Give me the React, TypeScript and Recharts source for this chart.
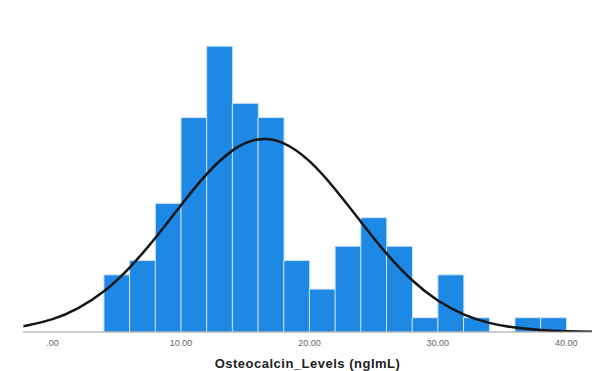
// OsteocalcinHistogram.tsx
import {
  ComposedChart, Bar, Line, XAxis, YAxis, Label
} from 'recharts';

// histogram bins (width 2), centre of each bin and its frequency
const binMids = [5, 7, 9, 11, 13, 15, 17, 19, 21, 23, 25, 27, 29, 31, 33, 35, 37, 39];
const binCounts = [4, 5, 9, 15, 20, 16, 15, 5, 3, 6, 8, 6, 1, 4, 1, 0, 1, 1];

// fitted normal curve (frequency scale)
const curveX = [-2.3, -2, 0, 2, 4, 6, 8, 10, 12, 14, 16, 18, 20, 22, 24, 26, 28, 30, 32, 34, 36, 38, 40, 42];
const curveY = [0.4, 0.45, 0.9, 1.67, 2.85, 4.51, 6.58, 8.87, 11.04, 12.69, 13.47, 13.2, 11.95, 9.99, 7.72, 5.5, 3.62, 2.2, 1.24, 0.64, 0.31, 0.14, 0.06, 0.02];

const xTicks = [0, 10, 20, 30, 40];

const bins = binMids.map((mid, i) => ({ mid, count: binCounts[i] }));
const curve = curveX.map((x, i) => ({ x, y: curveY[i] }));

const fmt = (v: number) => (v === 0 ? '.00' : v.toFixed(2));

function App() {
  return (
    <div style={{ position: 'absolute', left: 0, top: 0, width: 592, height: 371, background: '#fff' }}>
      <ComposedChart
        width={592}
        height={371}
        data={bins}
        margin={{ top: 29, right: 0, left: 23, bottom: 0 }}
        barCategoryGap={0}
        barGap={0}
      >
        <XAxis
          dataKey="mid"
          type="number"
          domain={[-2.3, 42]}
          allowDataOverflow
          ticks={xTicks}
          tickFormatter={fmt}
          tickLine={false}
          height={39}
          stroke="#9a9a9a"
          tick={{ fontSize: 9, fill: '#666', fontFamily: 'Liberation Sans, Arial, sans-serif' }}
        >
          <Label
            value="Osteocalcin_Levels (ngImL)"
            position="insideBottom"
            offset={3}
            style={{ fontSize: 13, fontWeight: 'bold', fill: '#222', fontFamily: 'Liberation Sans, Arial, sans-serif', letterSpacing: 0.5 }}
          />
        </XAxis>
        <XAxis xAxisId="fit" dataKey="x" type="number" domain={[-2.3, 42]} allowDataOverflow hide />
        <YAxis type="number" domain={[0, 21.2]} allowDataOverflow width={0} tick={false} tickLine={false} stroke="#cfcfcf" />
        <Bar dataKey="count" fill="#1e88e5" stroke="#cfe6fb" strokeWidth={1} isAnimationActive={false} />
        <Line
          xAxisId="fit"
          data={curve}
          dataKey="y"
          type="natural"
          stroke="#151515"
          strokeWidth={2.5}
          dot={false}
          activeDot={false}
          isAnimationActive={false}
        />
      </ComposedChart>
    </div>
  );
}

export default App;
